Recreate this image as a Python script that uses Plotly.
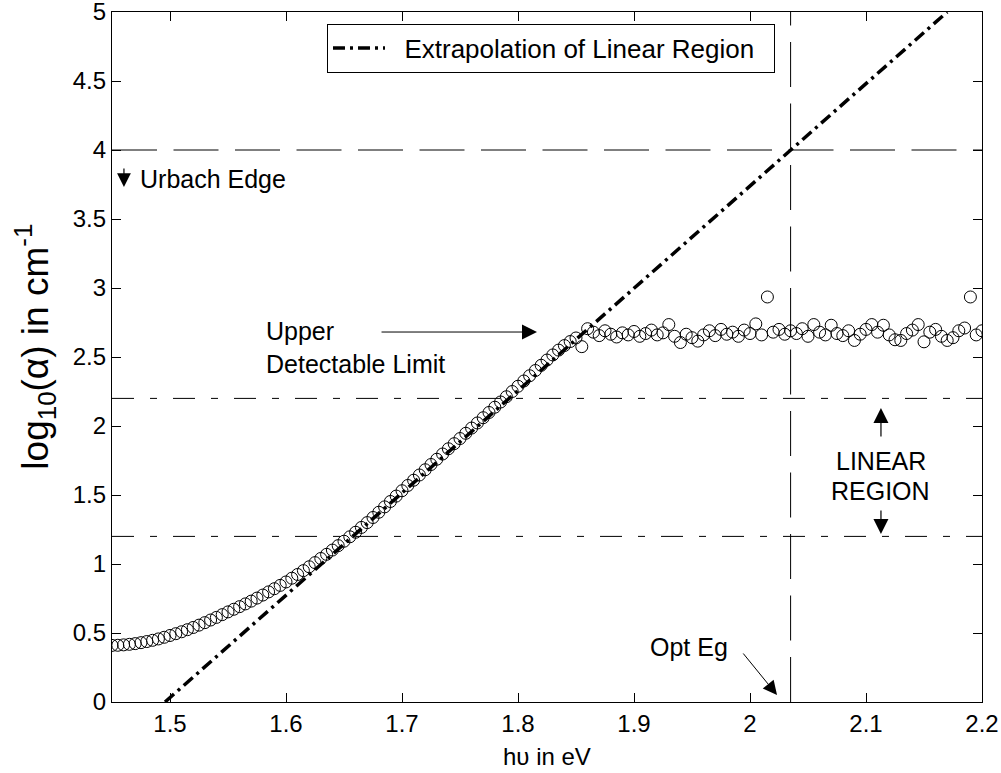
import plotly.graph_objects as go

# ---------------- data ----------------
photon_energy_ev = [
    1.450, 1.455, 1.460, 1.465, 1.470, 1.475, 1.480, 1.485, 1.490, 1.495,
    1.500, 1.505, 1.510, 1.515, 1.520, 1.525, 1.530, 1.535, 1.540, 1.545,
    1.550, 1.555, 1.560, 1.565, 1.570, 1.575, 1.580, 1.585, 1.590, 1.595,
    1.600, 1.605, 1.610, 1.615, 1.620, 1.625, 1.630, 1.635, 1.640, 1.645,
    1.650, 1.655, 1.660, 1.665, 1.670, 1.675, 1.680, 1.685, 1.690, 1.695,
    1.700, 1.705, 1.710, 1.715, 1.720, 1.725, 1.730, 1.735, 1.740, 1.745,
    1.750, 1.755, 1.760, 1.765, 1.770, 1.775, 1.780, 1.785, 1.790, 1.795,
    1.800, 1.805, 1.810, 1.815, 1.820, 1.825, 1.830, 1.835, 1.840, 1.845,
    1.850, 1.855, 1.860, 1.865, 1.870, 1.875, 1.880, 1.885, 1.890, 1.895,
    1.900, 1.905, 1.910, 1.915, 1.920, 1.925, 1.930, 1.935, 1.940, 1.945,
    1.950, 1.955, 1.960, 1.965, 1.970, 1.975, 1.980, 1.985, 1.990, 1.995,
    2.000, 2.005, 2.010, 2.015, 2.020, 2.025, 2.030, 2.035, 2.040, 2.045,
    2.050, 2.055, 2.060, 2.065, 2.070, 2.075, 2.080, 2.085, 2.090, 2.095,
    2.100, 2.105, 2.110, 2.115, 2.120, 2.125, 2.130, 2.135, 2.140, 2.145,
    2.150, 2.155, 2.160, 2.165, 2.170, 2.175, 2.180, 2.185, 2.190, 2.195,
    2.200,
]

log10_alpha = [
    0.410, 0.411, 0.414, 0.418, 0.423, 0.430, 0.438, 0.447, 0.457, 0.469,
    0.482, 0.495, 0.509, 0.524, 0.540, 0.557, 0.575, 0.594, 0.613, 0.633,
    0.653, 0.672, 0.691, 0.711, 0.731, 0.753, 0.775, 0.798, 0.821, 0.845,
    0.870, 0.897, 0.924, 0.952, 0.980, 1.010, 1.040, 1.070, 1.101, 1.133,
    1.165, 1.197, 1.230, 1.265, 1.300, 1.337, 1.375, 1.414, 1.453, 1.492,
    1.531, 1.569, 1.607, 1.645, 1.683, 1.721, 1.759, 1.797, 1.835, 1.872,
    1.909, 1.947, 1.985, 2.022, 2.060, 2.098, 2.136, 2.174, 2.212, 2.250,
    2.288, 2.326, 2.364, 2.402, 2.440, 2.478, 2.515, 2.550, 2.583, 2.612,
    2.638, 2.575, 2.705, 2.680, 2.655, 2.690, 2.665, 2.645, 2.675, 2.660,
    2.685, 2.650, 2.670, 2.695, 2.660, 2.675, 2.735, 2.650, 2.605, 2.665,
    2.640, 2.615, 2.660, 2.690, 2.655, 2.700, 2.665, 2.680, 2.650, 2.695,
    2.670, 2.740, 2.660, 2.935, 2.680, 2.700, 2.665, 2.690, 2.670, 2.705,
    2.650, 2.735, 2.680, 2.660, 2.730, 2.670, 2.655, 2.690, 2.620, 2.665,
    2.700, 2.735, 2.680, 2.730, 2.660, 2.625, 2.620, 2.670, 2.695, 2.735,
    2.610, 2.680, 2.700, 2.650, 2.620, 2.640, 2.690, 2.710, 2.935, 2.660,
    2.690,
]

extrapolation_x = [1.4957, 2.1700]
extrapolation_y = [0.0, 5.0]

urbach_edge_level = 4.0
linear_region_levels = [2.2, 1.2]
optical_gap_ev = 2.035

x_range = [1.45, 2.2]
y_range = [0.0, 5.0]
x_tick_values = [1.5, 1.6, 1.7, 1.8, 1.9, 2.0, 2.1, 2.2]
x_tick_labels = ["1.5", "1.6", "1.7", "1.8", "1.9", "2", "2.1", "2.2"]
y_tick_values = [0, 0.5, 1, 1.5, 2, 2.5, 3, 3.5, 4, 4.5, 5]
y_tick_labels = ["0", "0.5", "1", "1.5", "2", "2.5", "3", "3.5", "4", "4.5", "5"]

# ---------------- figure ----------------
FONT = "Liberation Sans, Arial, Helvetica, sans-serif"
BLACK = "#000000"
NBSP = "\u00a0"

fig = go.Figure()

# Urbach edge reference (long dashes)
fig.add_trace(go.Scatter(
    x=x_range, y=[urbach_edge_level, urbach_edge_level], mode="lines",
    line=dict(color=BLACK, width=1, dash="45px,16.5px"),
    showlegend=False, hoverinfo="skip"))

# Linear-region bounds (dash-dot)
for lvl in linear_region_levels:
    fig.add_trace(go.Scatter(
        x=x_range, y=[lvl, lvl], mode="lines",
        line=dict(color=BLACK, width=1, dash="22px,16px,7px,16px"),
        showlegend=False, hoverinfo="skip"))

# Optical gap vertical line
fig.add_trace(go.Scatter(
    x=[optical_gap_ev, optical_gap_ev], y=y_range, mode="lines",
    line=dict(color=BLACK, width=1, dash="45px,16.5px"),
    showlegend=False, hoverinfo="skip"))

# Measured data (open circles)
fig.add_trace(go.Scatter(
    x=photon_energy_ev, y=log10_alpha, mode="markers",
    marker=dict(symbol="circle-open", size=12, color=BLACK,
                line=dict(width=1, color=BLACK)),
    showlegend=False, hoverinfo="skip"))

# Extrapolation of linear region
fig.add_trace(go.Scatter(
    x=extrapolation_x, y=extrapolation_y, mode="lines",
    name=NBSP * 2 + "Extrapolation of Linear Region" + NBSP * 2,
    line=dict(color=BLACK, width=3.5, dash="12px,5px,3px,5px"),
    showlegend=True, hoverinfo="skip"))

axis_common = dict(
    showgrid=False, zeroline=False, showline=True, linecolor=BLACK,
    linewidth=1.2, mirror="ticks", ticks="inside", ticklen=9,
    tickwidth=1, tickcolor=BLACK, ticklabeloverflow="allow",
    automargin=False,
    tickfont=dict(family=FONT, size=24, color=BLACK),
)

fig.update_xaxes(range=x_range, tickvals=x_tick_values,
                 ticktext=x_tick_labels, **axis_common)
fig.update_yaxes(range=y_range, tickvals=y_tick_values,
                 ticktext=y_tick_labels, **axis_common)

text_font = dict(family=FONT, size=25, color=BLACK)

annotations = [
    # Urbach edge
    dict(x=1.4724, y=3.793, text="Urbach Edge", showarrow=False,
         xanchor="left", yanchor="middle", font=text_font),
    dict(x=1.4603, y=3.732, text="", showarrow=True, ax=0, ay=-20,
         arrowhead=2, arrowsize=2.3, arrowwidth=1.2, arrowcolor=BLACK),
    # Upper detectable limit
    dict(x=1.581, y=2.688, text="Upper", showarrow=False,
         xanchor="left", yanchor="middle", font=text_font),
    dict(x=1.581, y=2.449, text="Detectable Limit", showarrow=False,
         xanchor="left", yanchor="middle", font=text_font),
    dict(x=1.8164, y=2.681, text="", showarrow=True, ax=-157, ay=0,
         arrowhead=2, arrowsize=3, arrowwidth=1, arrowcolor=BLACK),
    # Linear region
    dict(x=2.1129, y=1.746, text="LINEAR", showarrow=False,
         xanchor="center", yanchor="middle", font=text_font),
    dict(x=2.1129, y=1.529, text="REGION", showarrow=False,
         xanchor="center", yanchor="middle", font=text_font),
    dict(x=2.1129, y=2.130, text="", showarrow=True, ax=0, ay=30,
         arrowhead=2, arrowsize=2.5, arrowwidth=1.2, arrowcolor=BLACK),
    dict(x=2.1129, y=1.217, text="", showarrow=True, ax=0, ay=-25,
         arrowhead=2, arrowsize=2.5, arrowwidth=1.2, arrowcolor=BLACK),
    # Optical gap
    dict(x=1.9474, y=0.399, text="Opt Eg", showarrow=False,
         xanchor="center", yanchor="middle", font=text_font),
    dict(x=2.0233, y=0.0507, text="", showarrow=True, ax=-35, ay=-43,
         arrowhead=2, arrowsize=2.8, arrowwidth=1, arrowcolor=BLACK),
    # Axis titles
    dict(xref="paper", yref="paper", x=0.5, y=-0.0797,
         text="h\u03c5 in eV", showarrow=False,
         xanchor="center", yanchor="middle",
         font=dict(family=FONT, size=24, color=BLACK)),
    dict(xref="paper", yref="paper", x=-0.0885, y=0.515,
         text="log<sub>10</sub>(\u03b1) in cm<sup>-1</sup>", textangle=-90,
         showarrow=False, xanchor="center", yanchor="middle",
         font=dict(family=FONT, size=37, color=BLACK)),
]

fig.update_layout(
    width=1001, height=773,
    margin=dict(l=112, r=19, t=12, b=71, pad=0),
    paper_bgcolor="white", plot_bgcolor="white",
    font=dict(family=FONT, size=24, color=BLACK),
    showlegend=True,
    legend=dict(x=0.2471, y=0.9833, xanchor="left", yanchor="top",
                bgcolor="white", bordercolor=BLACK, borderwidth=1,
                font=dict(family=FONT, size=26, color=BLACK),
                itemwidth=52),
    annotations=annotations,
)

fig.write_html("out.html",
               config={"displayModeBar": False},
               post_script="document.body.style.margin='0px';"
                           "document.body.style.overflow='hidden';")
